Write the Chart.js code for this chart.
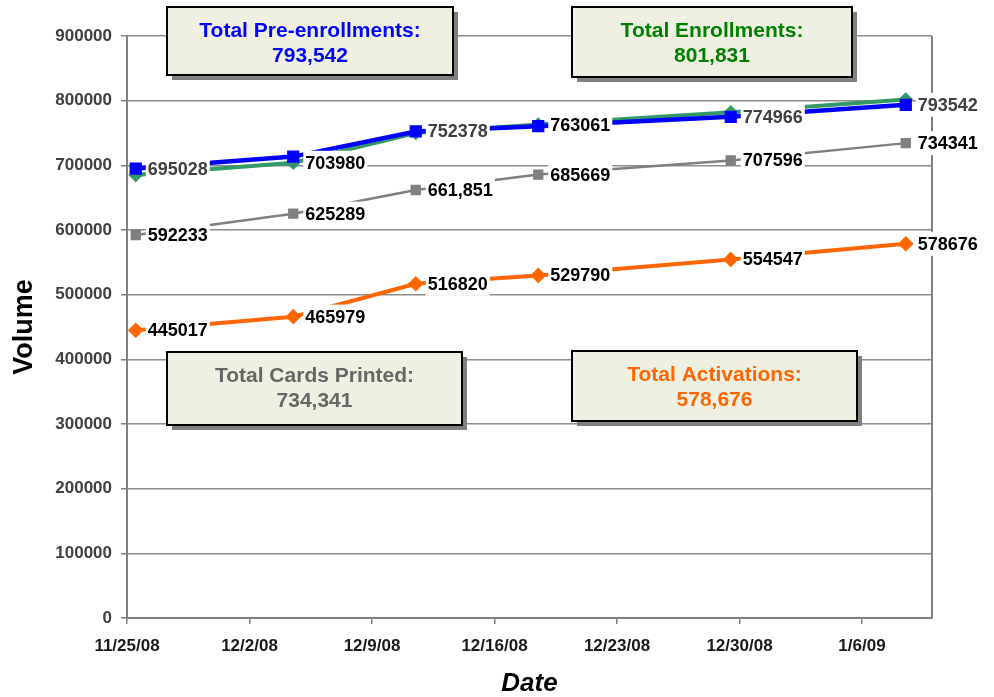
<!DOCTYPE html>
<html><head><meta charset="utf-8">
<script src="https://cdn.jsdelivr.net/npm/chart.js@4.4.1/dist/chart.umd.min.js"></script>
<style>html,body{margin:0;padding:0;background:#fff;}canvas{display:block;}</style>
</head><body>
<canvas id="c" width="994" height="697"></canvas>
<script>
// ---- data ----
const axisStart = '2008-11-25';
const axisEnd = '2009-01-10';
const dates = ['2008-11-25', '2008-12-04', '2008-12-11', '2008-12-18', '2008-12-29', '2009-01-08'];
const tickLabels = ['11/25/08', '12/2/08', '12/9/08', '12/16/08', '12/23/08', '12/30/08', '1/6/09'];
const yTickValues = [0, 100000, 200000, 300000, 400000, 500000, 600000, 700000, 800000, 900000];
const preEnrollments = [695028, 713500, 752378, 760500, 774966, 793542];
const enrollments = [685000, 703980, 750000, 763061, 782000, 801831];
const cardsPrinted = [592233, 625289, 661851, 685669, 707596, 734341];
const activations = [445017, 465979, 516820, 529790, 554547, 578676];
const preLabels = ['695028', null, '752378', null, '774966', '793542'];
const enrLabels = [null, '703980', null, '763061', null, null];
const cardLabels = ['592233', '625289', '661,851', '685669', '707596', '734341'];
const actLabels = ['445017', '465979', '516820', '529790', '554547', '578676'];
const boxTitles = ['Total Pre-enrollments:', 'Total Enrollments:', 'Total Cards Printed:', 'Total Activations:'];

// ---- helpers ----
const DAY = 86400000;
const dayOf = d => (Date.parse(d) - Date.parse(axisStart)) / DAY;
const pts = vals => vals.map((v, i) => ({ x: dayOf(dates[i]) + 0.5, y: v }));
const fmt = v => v.toLocaleString('en-US');
const FONT = '"Liberation Sans", Arial, sans-serif';

const boxes = [
  { title: boxTitles[0], value: fmt(preEnrollments[preEnrollments.length - 1]), color: '#0000FF', x: 167, y: 7, w: 286, h: 68 },
  { title: boxTitles[1], value: fmt(enrollments[enrollments.length - 1]), color: '#008000', x: 572, y: 7, w: 280, h: 70 },
  { title: boxTitles[2], value: fmt(cardsPrinted[cardsPrinted.length - 1]), color: '#666666', x: 167, y: 352, w: 295, h: 73 },
  { title: boxTitles[3], value: fmt(activations[activations.length - 1]), color: '#FF6600', x: 572, y: 351, w: 285, h: 70 }
];

const rightBorder = {
  id: 'rightBorder',
  beforeDatasetsDraw(chart) {
    const { ctx, chartArea: a } = chart;
    ctx.save();
    ctx.strokeStyle = '#808080';
    ctx.lineWidth = 2;
    ctx.beginPath();
    ctx.moveTo(a.right, a.top);
    ctx.lineTo(a.right, a.bottom);
    ctx.stroke();
    ctx.restore();
  }
};

const valueLabels = {
  id: 'valueLabels',
  afterDatasetsDraw(chart) {
    const ctx = chart.ctx;
    ctx.save();
    ctx.font = 'bold 18px ' + FONT;
    ctx.textBaseline = 'middle';
    ctx.textAlign = 'left';
    for (let i = chart.data.datasets.length - 1; i >= 0; i--) {
      const ds = chart.data.datasets[i];
      const meta = chart.getDatasetMeta(i);
      (ds.valueLabels || []).forEach((t, j) => {
        if (!t) return;
        const p = meta.data[j];
        const tx = p.x + 12;
        const w = ctx.measureText(t).width;
        ctx.fillStyle = '#ffffff';
        ctx.fillRect(tx - 2, p.y - 12, w + 4, 24);
        ctx.fillStyle = ds.valueLabelColor;
        ctx.fillText(t, tx, p.y + 1);
      });
    }
    ctx.restore();
  }
};

const textBoxes = {
  id: 'textBoxes',
  afterDraw(chart) {
    const ctx = chart.ctx;
    ctx.save();
    boxes.forEach(b => {
      ctx.fillStyle = '#808080';
      ctx.fillRect(b.x + 5, b.y + 5, b.w, b.h);
      ctx.fillStyle = '#F0F0E2';
      ctx.fillRect(b.x, b.y, b.w, b.h);
      ctx.strokeStyle = '#000000';
      ctx.lineWidth = 2;
      ctx.strokeRect(b.x, b.y, b.w, b.h);
      ctx.fillStyle = b.color;
      ctx.font = 'bold 21px ' + FONT;
      ctx.textAlign = 'center';
      ctx.textBaseline = 'middle';
      ctx.fillText(b.title, b.x + b.w / 2, b.y + 24);
      ctx.fillText(b.value, b.x + b.w / 2, b.y + 49);
    });
    ctx.restore();
  }
};

new Chart(document.getElementById('c'), {
  type: 'line',
  data: {
    datasets: [
      { label: 'Pre-enrollments', data: pts(preEnrollments), borderColor: '#0000FF', backgroundColor: '#0000FF',
        borderWidth: 4.5, pointStyle: 'rect', pointRadius: 5.5, valueLabels: preLabels, valueLabelColor: '#404040' },
      { label: 'Enrollments', data: pts(enrollments), borderColor: '#339966', backgroundColor: '#339966',
        borderWidth: 4, pointStyle: 'rectRot', pointRadius: 4.5, valueLabels: enrLabels, valueLabelColor: '#000000' },
      { label: 'Cards Printed', data: pts(cardsPrinted), borderColor: '#808080', backgroundColor: '#808080',
        borderWidth: 2.5, pointStyle: 'rect', pointRadius: 5.5, valueLabels: cardLabels, valueLabelColor: '#000000' },
      { label: 'Activations', data: pts(activations), borderColor: '#FF6600', backgroundColor: '#FF6600',
        borderWidth: 4, pointStyle: 'rectRot', pointRadius: 5, valueLabels: actLabels, valueLabelColor: '#000000' }
    ]
  },
  options: {
    responsive: false,
    animation: false,
    layout: { padding: { top: 36, right: 62, left: 0, bottom: 0 } },
    plugins: { legend: { display: false }, tooltip: { enabled: false } },
    elements: { line: { tension: 0 }, point: { borderWidth: 0 } },
    scales: {
      x: {
        type: 'linear',
        min: 0,
        max: dayOf(axisEnd),
        afterFit: s => { s.height = 79; },
        grid: { drawOnChartArea: false, drawTicks: true, tickLength: 6, color: '#808080', lineWidth: 1.5 },
        border: { color: '#808080', width: 2 },
        ticks: {
          stepSize: 7, includeBounds: false, maxRotation: 0, autoSkip: false, padding: 12,
          color: '#1a1a1a', font: { family: FONT, size: 17, weight: 'bold' },
          callback: v => tickLabels[Math.round(v / 7)] ?? ''
        },
        title: { display: true, text: 'Date', color: '#000000', padding: { top: 0, bottom: 0 },
          font: { family: FONT, size: 26, weight: 'bold', style: 'italic', lineHeight: 1 } }
      },
      y: {
        min: yTickValues[0],
        max: yTickValues[yTickValues.length - 1],
        afterFit: s => { s.width = 127; },
        afterBuildTicks: s => { s.ticks = yTickValues.map(v => ({ value: v })); },
        grid: { color: '#8c8c8c', lineWidth: 1.5, tickLength: 6, tickColor: '#808080' },
        border: { color: '#808080', width: 2 },
        ticks: { padding: 9, color: '#404040', font: { family: FONT, size: 17, weight: 'bold' },
          callback: v => String(v) },
        title: { display: true, text: 'Volume', color: '#000000', padding: { top: 11.5, bottom: 0 },
          font: { family: FONT, size: 27, weight: 'bold', lineHeight: 1 } }
      }
    }
  },
  plugins: [rightBorder, valueLabels, textBoxes]
});
</script>
</body></html>
